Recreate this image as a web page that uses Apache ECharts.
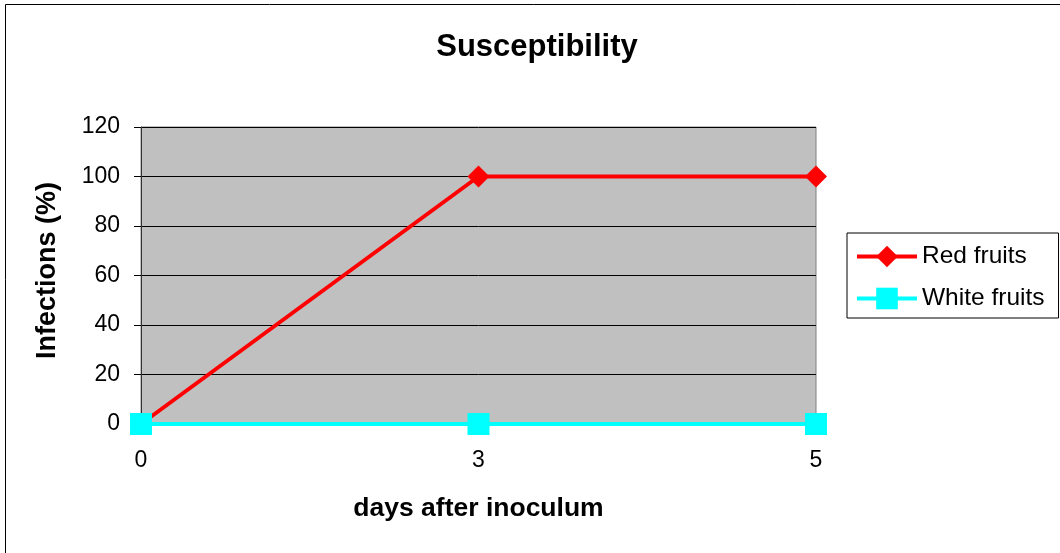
<!DOCTYPE html>
<html>
<head>
<meta charset="utf-8">
<title>Susceptibility</title>
<script src="https://cdn.jsdelivr.net/npm/echarts@6/dist/echarts.min.js"></script>
<style>
  html, body { margin: 0; padding: 0; background: #fff; }
  #chart { width: 1060px; height: 553px; }
</style>
</head>
<body>
<div id="chart"></div>
<script>
// Days after inoculum (category axis)
const days = ['0', '3', '5'];
// Infection rates in percent
const redFruits = [0, 100, 100];
const whiteFruits = [0, 0, 0];
// Series names
const seriesNames = ['Red fruits', 'White fruits'];

const FONT = '"Liberation Sans", Arial, sans-serif';

const chart = echarts.init(document.getElementById('chart'), null, { renderer: 'canvas' });

chart.setOption({
  backgroundColor: '#ffffff',
  animation: false,
  graphic: [
    {
      type: 'rect',
      shape: { x: 5.5, y: 4.5, width: 2000, height: 2000 },
      style: { fill: 'none', stroke: '#000', lineWidth: 1 },
      silent: true,
      z: -1
    },
    {
      type: 'text',
      x: 537,
      y: 47,
      style: {
        text: 'Susceptibility',
        fill: '#000',
        font: 'bold 31px "Liberation Sans", Arial, sans-serif',
        textAlign: 'center',
        textVerticalAlign: 'middle'
      },
      silent: true
    }
  ],
  legend: {
    orient: 'vertical',
    left: 847,
    top: 233,
    padding: [11, 14, 7, 8],
    itemWidth: 60,
    itemHeight: 27,
    itemGap: 17,
    borderColor: '#000',
    borderWidth: 1,
    backgroundColor: '#fff',
    lineStyle: { width: 4 },
    textStyle: { fontFamily: FONT, fontSize: 24.5, lineHeight: 25, color: '#000' },
    data: seriesNames
  },
  grid: {
    left: 141,
    right: 244,
    top: 127,
    bottom: 129,
    show: true,
    backgroundColor: '#c0c0c0',
    borderColor: '#808080',
    borderWidth: 1,
    containLabel: false
  },
  xAxis: {
    type: 'category',
    data: days,
    boundaryGap: false,
    name: 'days after inoculum',
    nameLocation: 'middle',
    nameGap: 71,
    nameTextStyle: { fontFamily: FONT, fontSize: 26.5, fontWeight: 'bold', color: '#000' },
    axisLine: { show: true, lineStyle: { color: '#000', width: 1 } },
    axisTick: { show: false },
    axisLabel: { fontFamily: FONT, fontSize: 23, color: '#000', margin: 25 },
    splitLine: { show: false }
  },
  yAxis: {
    type: 'value',
    min: 0,
    max: 120,
    interval: 20,
    name: 'Infections (%)',
    nameLocation: 'middle',
    nameRotate: 90,
    nameGap: 80,
    nameTextStyle: { fontFamily: FONT, fontSize: 27, fontWeight: 'bold', color: '#000', padding: [0, 0, 0, 10] },
    axisLine: { show: true, lineStyle: { color: '#333', width: 1 } },
    axisTick: { show: true, length: 7, inside: false, lineStyle: { color: '#000' } },
    axisLabel: { fontFamily: FONT, fontSize: 23, color: '#000', margin: 21 },
    splitLine: { show: true, lineStyle: { color: '#000', width: 1 } }
  },
  series: [
    {
      name: seriesNames[0],
      type: 'line',
      data: redFruits,
      symbol: 'diamond',
      symbolSize: 22,
      itemStyle: { color: '#ff0000' },
      lineStyle: { color: '#ff0000', width: 4 },
      z: 2
    },
    {
      name: seriesNames[1],
      type: 'line',
      data: whiteFruits,
      symbol: 'rect',
      symbolSize: 22,
      itemStyle: { color: '#00ffff' },
      lineStyle: { color: '#00ffff', width: 4 },
      z: 3
    }
  ]
});
</script>
</body>
</html>
